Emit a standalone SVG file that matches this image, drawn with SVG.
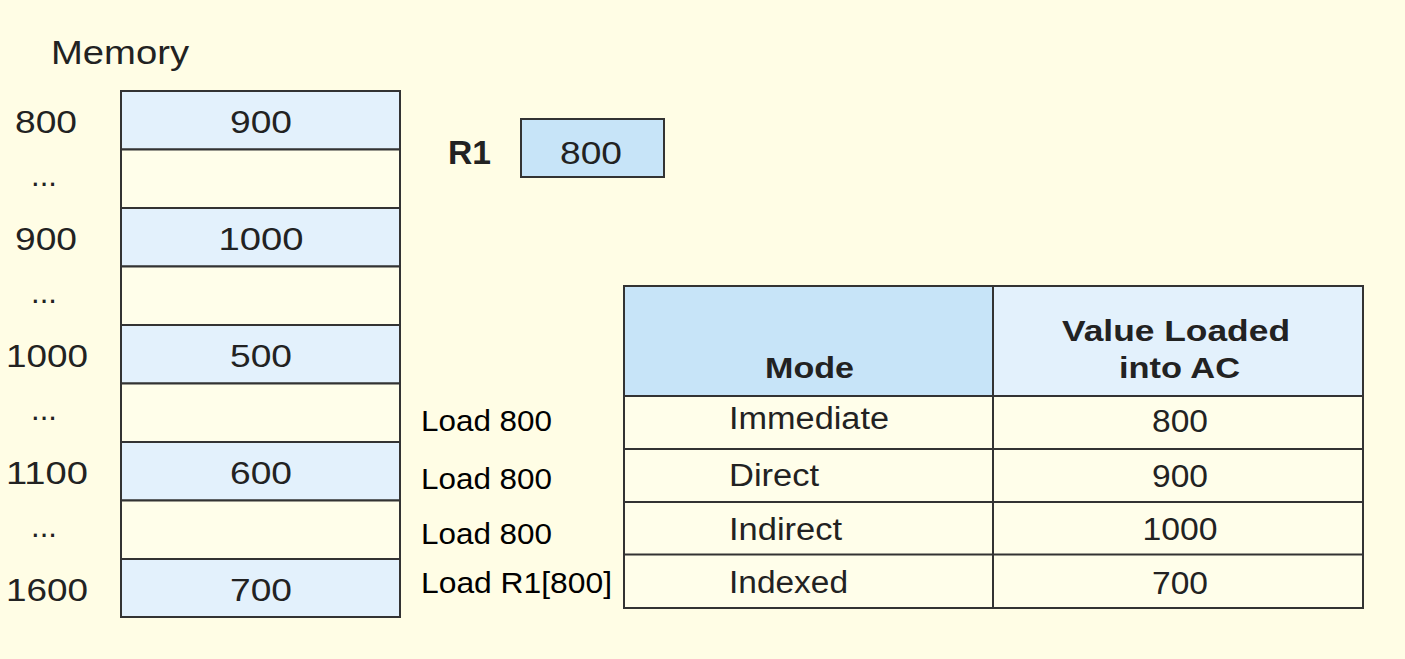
<svg xmlns="http://www.w3.org/2000/svg" width="1405" height="659" viewBox="0 0 1405 659">
<style>
text{font-family:"Liberation Sans",Arial,sans-serif;fill:#222}
.n{font-size:31px}
.b{font-weight:bold;font-size:29px}
.c{stroke:#333;stroke-width:2}
.full{fill:#E3F1FC}
.empty{fill:#FFFEEA}
.dk{fill:#C7E4F8}
.m{text-anchor:middle}
.ld{font-size:29px;fill:#000}
</style>
<rect x="0" y="0" width="1405" height="659" fill="#FFFDE5"/>
<text x="51" y="64" font-size="33" textLength="138" lengthAdjust="spacingAndGlyphs">Memory</text>
<g id="memory">
<rect class="c full" x="121" y="91" width="279" height="58.5"/>
<rect class="c empty" x="121" y="149.5" width="279" height="58.5"/>
<rect class="c full" x="121" y="208" width="279" height="58.5"/>
<rect class="c empty" x="121" y="266.5" width="279" height="58.5"/>
<rect class="c full" x="121" y="325" width="279" height="58.5"/>
<rect class="c empty" x="121" y="383.5" width="279" height="58.5"/>
<rect class="c full" x="121" y="442" width="279" height="58.5"/>
<rect class="c empty" x="121" y="500.5" width="279" height="58.5"/>
<rect class="c full" x="121" y="559" width="279" height="58"/>
<text class="n m" x="261" y="133" textLength="62" lengthAdjust="spacingAndGlyphs">900</text>
<text class="n m" x="261" y="250" textLength="85" lengthAdjust="spacingAndGlyphs">1000</text>
<text class="n m" x="261" y="367" textLength="62" lengthAdjust="spacingAndGlyphs">500</text>
<text class="n m" x="261" y="484" textLength="62" lengthAdjust="spacingAndGlyphs">600</text>
<text class="n m" x="261" y="601" textLength="62" lengthAdjust="spacingAndGlyphs">700</text>
</g>
<g id="addresses">
<text class="n m" x="46" y="133" textLength="62" lengthAdjust="spacingAndGlyphs">800</text>
<text class="n m" x="44" y="186" font-size="28">...</text>
<text class="n m" x="46" y="250" textLength="62" lengthAdjust="spacingAndGlyphs">900</text>
<text class="n m" x="44" y="303" font-size="28">...</text>
<text class="n m" x="47" y="367" textLength="82" lengthAdjust="spacingAndGlyphs">1000</text>
<text class="n m" x="44" y="420" font-size="28">...</text>
<text class="n m" x="47" y="484" textLength="82" lengthAdjust="spacingAndGlyphs">1100</text>
<text class="n m" x="44" y="537" font-size="28">...</text>
<text class="n m" x="47" y="601" textLength="82" lengthAdjust="spacingAndGlyphs">1600</text>
</g>
<g id="r1">
<text x="448" y="164" font-size="33" font-weight="bold" textLength="43" lengthAdjust="spacingAndGlyphs">R1</text>
<rect class="c dk" x="521" y="119" width="143" height="58"/>
<text class="n m" x="591" y="164" textLength="62" lengthAdjust="spacingAndGlyphs">800</text>
</g>
<g id="instructions">
<text class="ld" x="421" y="431" textLength="131" lengthAdjust="spacingAndGlyphs">Load 800</text>
<text class="ld" x="421" y="489" textLength="131" lengthAdjust="spacingAndGlyphs">Load 800</text>
<text class="ld" x="421" y="544" textLength="131" lengthAdjust="spacingAndGlyphs">Load 800</text>
<text class="ld" x="421" y="593" textLength="191" lengthAdjust="spacingAndGlyphs">Load R1[800]</text>
</g>
<g id="table">
<rect class="dk" x="624" y="286" width="369" height="110"/>
<rect class="full" x="993" y="286" width="370" height="110"/>
<rect class="empty" x="624" y="396" width="739" height="212"/>
<g class="c" fill="none">
<rect x="624" y="286" width="739" height="322"/>
<line x1="993" y1="286" x2="993" y2="608"/>
<line x1="624" y1="396" x2="1363" y2="396"/>
<line x1="624" y1="449" x2="1363" y2="449"/>
<line x1="624" y1="502" x2="1363" y2="502"/>
<line x1="624" y1="554.5" x2="1363" y2="554.5"/>
</g>
<text class="b m" x="809.5" y="378" textLength="89" lengthAdjust="spacingAndGlyphs">Mode</text>
<text class="b m" x="1176" y="341" textLength="228" lengthAdjust="spacingAndGlyphs">Value Loaded</text>
<text class="b m" x="1179.5" y="378" textLength="121" lengthAdjust="spacingAndGlyphs">into AC</text>
<text class="n" x="729" y="429" font-size="30" textLength="160" lengthAdjust="spacingAndGlyphs">Immediate</text>
<text class="n" x="729" y="486" font-size="30" textLength="90" lengthAdjust="spacingAndGlyphs">Direct</text>
<text class="n" x="729" y="540" font-size="30" textLength="113" lengthAdjust="spacingAndGlyphs">Indirect</text>
<text class="n" x="729" y="593" font-size="30" textLength="119" lengthAdjust="spacingAndGlyphs">Indexed</text>
<text class="n m" x="1180" y="432" font-size="30" textLength="56" lengthAdjust="spacingAndGlyphs">800</text>
<text class="n m" x="1180" y="487" font-size="30" textLength="56" lengthAdjust="spacingAndGlyphs">900</text>
<text class="n m" x="1180" y="540" font-size="30" textLength="75" lengthAdjust="spacingAndGlyphs">1000</text>
<text class="n m" x="1180" y="594" font-size="30" textLength="56" lengthAdjust="spacingAndGlyphs">700</text>
</g>
</svg>
